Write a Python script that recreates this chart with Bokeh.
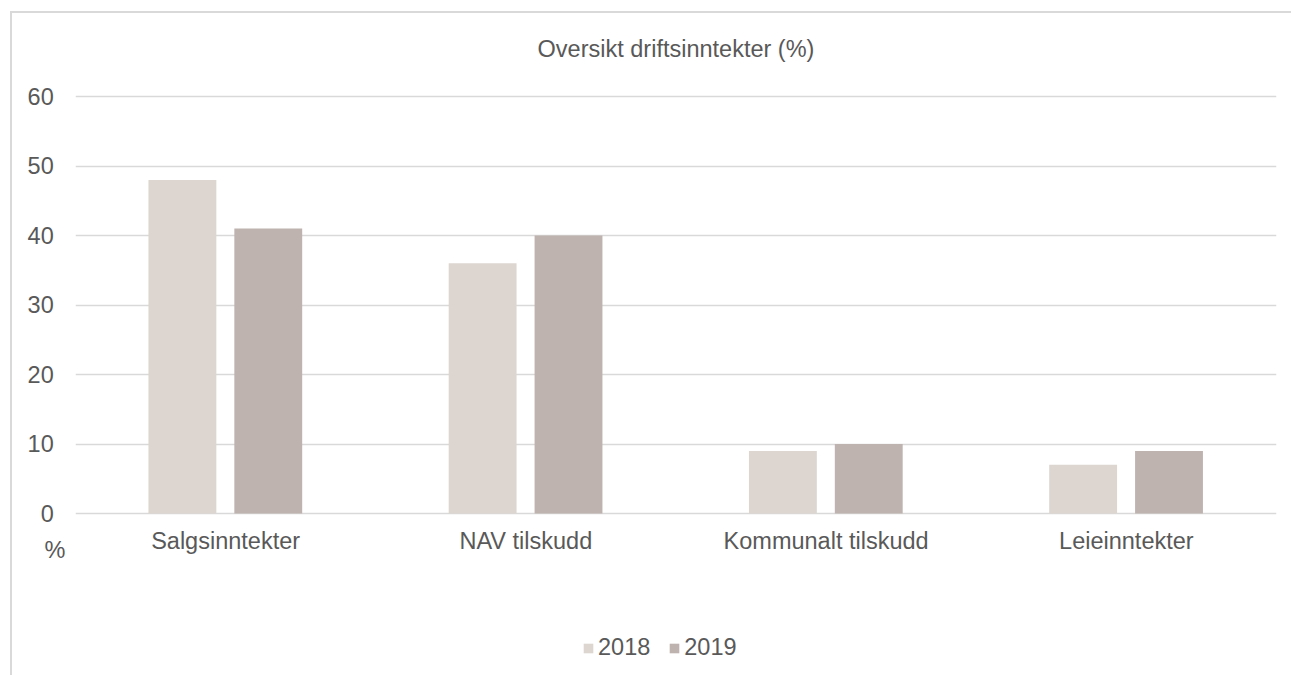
from bokeh.plotting import figure
from bokeh.models import ColumnDataSource, FactorRange, Range1d, Label, Legend, LegendItem
from bokeh.transform import dodge
from bokeh.embed import file_html
from bokeh.resources import INLINE

categories = ["Salgsinntekter", "NAV tilskudd", "Kommunalt tilskudd", "Leieinntekter"]
v2018 = [48, 36, 9, 7]
v2019 = [41, 40, 10, 9]
years = ["2018", "2019"]
y_ticks = [0, 10, 20, 30, 40, 50, 60]
title_text = "Oversikt driftsinntekter (%)"
y_unit = "%"

FONT = "Liberation Sans"
TXT = "#595959"
GRID = "#d9d9d9"
C18 = "#ddd6d0"
C19 = "#beb3ae"
FS = "23.5px"

PCT_POS = -5.2  # position of the unit label under the value axis

src = ColumnDataSource(dict(cat=categories, y18=v2018, y19=v2019))

p = figure(width=1281, height=664, x_range=FactorRange(*categories), y_range=Range1d(-21.87, 69.5),
           output_backend="svg", toolbar_location=None,
           min_border_left=63, min_border_right=17, min_border_top=17, min_border_bottom=12)
p.title.text_font_size = "0px"
p.outline_line_color = None
p.background_fill_color = "white"
p.border_fill_color = "white"
p.styles = {"margin-left": "10px", "margin-top": "11px",
            "border-left": "2px solid #d9d9d9", "border-top": "2px solid #d9d9d9",
            "border-right": "0px none", "border-bottom": "0px none"}

r18 = p.vbar(x=dodge("cat", -0.144, range=p.x_range), top="y18", bottom=0, width=0.226, source=src,
             fill_color=C18, line_color=None)
r19 = p.vbar(x=dodge("cat", 0.142, range=p.x_range), top="y19", bottom=0, width=0.226, source=src,
             fill_color=C19, line_color=None)

p.xgrid.grid_line_color = None
p.ygrid.ticker = y_ticks
p.ygrid.grid_line_color = GRID
p.ygrid.grid_line_width = 1.5

p.yaxis.ticker = y_ticks + [PCT_POS]
overrides = {t: f"{t}\u2002" for t in y_ticks}
overrides[PCT_POS] = y_unit
p.yaxis.major_label_overrides = overrides
p.yaxis.axis_line_color = None
p.yaxis.major_tick_line_color = None
p.yaxis.minor_tick_line_color = None
p.yaxis.major_tick_out = 0
p.yaxis.major_tick_in = 0
p.yaxis.major_label_standoff = 10
p.yaxis.major_label_text_font = FONT
p.yaxis.major_label_text_font_size = FS
p.yaxis.major_label_text_color = TXT

p.xaxis.axis_line_color = None
p.xaxis.major_tick_line_color = None
p.xaxis.major_tick_out = 0
p.xaxis.major_tick_in = 0
p.xaxis.major_label_standoff = -138
p.xaxis.major_label_text_font = FONT
p.xaxis.major_label_text_font_size = FS
p.xaxis.major_label_text_color = TXT

p.add_layout(Label(x=2.0, y=66.83, text=title_text,
                   text_align="center", text_baseline="middle", text_font=FONT,
                   text_font_size=FS, text_color=TXT))

legend = Legend(items=[LegendItem(label=years[0], renderers=[r18]),
                       LegendItem(label=years[1], renderers=[r19])],
                orientation="horizontal", location=(507, 4),
                glyph_width=12, glyph_height=12, label_standoff=4, spacing=18,
                padding=0, margin=0, border_line_color=None, background_fill_alpha=0,
                label_text_font=FONT, label_text_font_size=FS, label_text_color=TXT)
p.add_layout(legend, "center")

open("out.html", "w").write(file_html(p, INLINE))
